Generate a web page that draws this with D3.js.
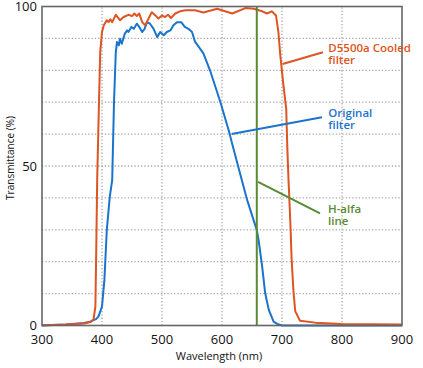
<!DOCTYPE html>
<html>
<head>
<meta charset="utf-8">
<script src="https://cdn.jsdelivr.net/npm/d3@7"></script>
<style>
  body { margin: 0; background: #fff; }
  text { font-family: "Open Sans", sans-serif; }
</style>
</head>
<body>
<div id="chart"></div>
<script>
// wavelength (nm) / transmittance (%)
const cooledNm = [300, 340, 370, 382, 386, 389, 390.5, 392, 395, 397, 400, 403, 408, 411, 414, 417, 423, 430, 436, 444, 450, 454, 458, 462, 467, 472, 478, 483, 489, 494, 500, 505, 510, 515, 522, 530, 539, 555, 569, 592, 617, 639, 653, 667, 675, 683, 690, 694, 697, 702, 707, 709, 711, 714, 716, 719, 722, 730, 755, 800, 900];
const cooledT  = [0.1, 0.3, 0.6, 1.2, 2, 6, 25, 46, 70, 85.7, 92, 94.1, 95.7, 95.1, 96, 95.1, 97.4, 95.7, 96.7, 97.4, 97, 97.8, 97, 97.8, 95.1, 94.1, 96.4, 98.2, 97.2, 96.2, 97.2, 96.7, 97.4, 96.4, 97.8, 98.5, 98.8, 98.8, 98.1, 99.3, 97.8, 99.5, 99.3, 98.5, 97.8, 98.5, 97.2, 92, 85, 76, 68, 55, 45, 32, 21, 11, 4.5, 1.5, 0.9, 0.5, 0.3];

const origNm = [300, 340, 370, 380, 390, 394, 400, 404, 408, 413, 417, 420, 423, 425, 428, 430, 433, 438, 442, 444, 449, 453, 458, 462, 467, 471, 475, 480, 486, 492, 497, 503, 508, 514, 519, 525, 532, 538, 544, 550, 555, 569, 580, 597, 611, 619, 642, 658, 661, 667, 672, 678, 686, 692, 700, 900];
const origT  = [0, 0.3, 0.8, 1.2, 2, 2.8, 5.9, 14.3, 30, 40.4, 45.6, 70, 85.7, 88.9, 87.8, 89.9, 88.3, 91.5, 92.5, 92, 93.6, 93, 94.6, 93.6, 92, 93, 95.1, 94.6, 93, 90.4, 92, 91, 92, 92.5, 94.1, 95.1, 95.1, 93.6, 93, 92, 89, 85.3, 80, 70.2, 61.3, 55.5, 39.3, 29.9, 26.8, 18.4, 10.1, 4.9, 1.2, 0.5, 0, 0];

const hAlpha = 658;

const xTicks = [300, 400, 500, 600, 700, 800, 900];
const yTicks = [0, 50, 100];
const yGrid = [10, 20, 30, 40, 50, 60, 70, 80, 90];

const width = 423;
const height = 368;
const margin = { top: 6.5, right: 21, bottom: 42.5, left: 42 };

const svg = d3.select("#chart")
  .append("svg")
  .attr("width", width)
  .attr("height", height);

const x = d3.scaleLinear().domain([300, 900]).range([margin.left, width - margin.right]);
const y = d3.scaleLinear().domain([0, 100]).range([height - margin.bottom, margin.top]);

// dotted grid
svg.append("g")
  .selectAll("line")
  .data(yGrid)
  .enter()
  .append("line")
  .attr("x1", x(300)).attr("x2", x(900))
  .attr("y1", d => y(d)).attr("y2", d => y(d))
  .attr("stroke", "#a8a8a8")
  .attr("stroke-width", 1.3)
  .attr("stroke-dasharray", "1.3,2");

svg.append("g")
  .selectAll("line")
  .data(xTicks.slice(1, -1))
  .enter()
  .append("line")
  .attr("x1", d => x(d)).attr("x2", d => x(d))
  .attr("y1", y(0)).attr("y2", y(100))
  .attr("stroke", "#a8a8a8")
  .attr("stroke-width", 1.3)
  .attr("stroke-dasharray", "1.3,2");

const line = d3.line()
  .x(d => x(d[0]))
  .y(d => y(d[1]));

const cooled = cooledNm.map((d, i) => [d, cooledT[i]]);
const orig = origNm.map((d, i) => [d, origT[i]]);

svg.append("path")
  .datum(orig)
  .attr("fill", "none")
  .attr("stroke", "#1b74cc")
  .attr("stroke-width", 2)
  .attr("stroke-linejoin", "round")
  .attr("d", line);

svg.append("path")
  .datum(cooled)
  .attr("fill", "none")
  .attr("stroke", "#dd5522")
  .attr("stroke-width", 2)
  .attr("stroke-linejoin", "round")
  .attr("d", line);

// H-alpha line
svg.append("line")
  .attr("x1", x(hAlpha)).attr("x2", x(hAlpha))
  .attr("y1", y(0)).attr("y2", y(100))
  .attr("stroke", "#5a8a34")
  .attr("stroke-width", 2);

// frame
svg.append("rect")
  .attr("x", x(300)).attr("y", y(100))
  .attr("width", x(900) - x(300))
  .attr("height", y(0) - y(100))
  .attr("fill", "none")
  .attr("stroke", "#666")
  .attr("stroke-width", 1.6);

// tick labels
svg.append("g")
  .selectAll("text")
  .data(xTicks)
  .enter()
  .append("text")
  .attr("x", d => x(d))
  .attr("y", y(0) + 18.5)
  .attr("text-anchor", "middle")
  .attr("font-size", 13)
  .attr("fill", "#111")
  .text(d => d);

svg.append("g")
  .selectAll("text")
  .data(yTicks)
  .enter()
  .append("text")
  .attr("x", margin.left - 5)
  .attr("y", d => y(d) + 4.8)
  .attr("text-anchor", "end")
  .attr("font-size", 13)
  .attr("fill", "#111")
  .text(d => d);

// axis titles
svg.append("text")
  .attr("x", 219)
  .attr("y", 360)
  .attr("text-anchor", "middle")
  .attr("font-size", 11)
  .attr("fill", "#111")
  .text("Wavelength (nm)");

svg.append("text")
  .attr("transform", "rotate(-90)")
  .attr("x", -158)
  .attr("y", 13.5)
  .attr("text-anchor", "middle")
  .attr("font-size", 10)
  .attr("fill", "#111")
  .text("Transmittance (%)");

// annotations
const notes = [
  { lines: ["D5500a Cooled", "filter"], color: "#dd5522", from: [701, 82], to: [323, 52.3], tx: 328.3, ty: 52 },
  { lines: ["Original", "filter"], color: "#1b74cc", from: [616, 60], to: [322, 117.3], tx: 328.3, ty: 116.5 },
  { lines: ["H-alfa", "line"], color: "#5a8a34", from: [660, 45], to: [320, 213.3], tx: 328, ty: 212.5 }
];

notes.forEach(n => {
  svg.append("line")
    .attr("x1", x(n.from[0])).attr("y1", y(n.from[1]))
    .attr("x2", n.to[0]).attr("y2", n.to[1])
    .attr("stroke", n.color)
    .attr("stroke-width", 2);
  n.lines.forEach((t, i) => {
    svg.append("text")
      .attr("x", n.tx)
      .attr("y", n.ty + i * 12)
      .attr("font-size", 11.5)
      .attr("font-weight", 600)
      .attr("fill", n.color)
      .text(t);
  });
});
</script>
</body>
</html>
